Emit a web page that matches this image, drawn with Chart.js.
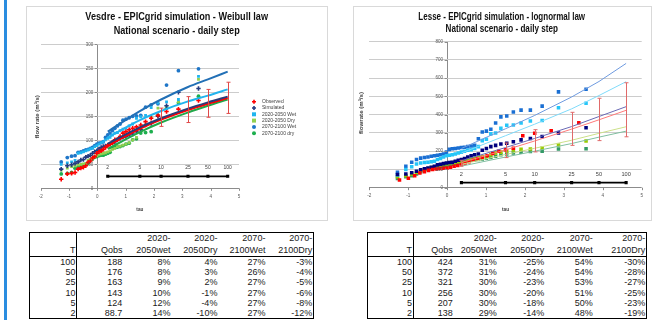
<!DOCTYPE html>
<html>
<head>
<meta charset="utf-8">
<script src="https://cdn.jsdelivr.net/npm/chart.js@4.4.1/dist/chart.umd.min.js"></script>
<style>
  body { margin: 0; background: #fff; width: 662px; height: 320px; overflow: hidden; position: relative;
         font-family: "Liberation Sans", Arial, sans-serif; }
  #bar { position: absolute; left: 4px; top: 0; width: 3px; height: 320px; background: #2a8de0; }
  .box { position: absolute; top: 6px; height: 213px; border: 1px solid #d9d9d9; background: #fff; }
  #boxL { left: 26px; width: 300px; }
  #boxR { left: 353px; width: 297px; }
  table { position: absolute; top: 232px; border-collapse: collapse; border: 1.5px solid #000;
          font-size: 9px; color: #1a1a1a; table-layout: fixed; }
  td { padding: 0 1px 0 0; text-align: right; height: 10.2px; line-height: 10px; white-space: nowrap; }
  tr.head td { height: 21px; vertical-align: bottom; line-height: 11.5px; border-bottom: 1px solid #000; }
  td.first { border-right: 1px solid #000; }
</style>
</head>
<body>
<div id="bar"></div>
<div class="box" id="boxL"><canvas id="vesdre" width="300" height="213"></canvas></div>
<div class="box" id="boxR"><canvas id="lesse" width="297" height="213"></canvas></div>
<table id="tabL" style="left:29px"></table>
<table id="tabR" style="left:367px"></table>
<script>
// plotting positions (Gumbel reduced variate)
const tau35 = [-1.276, -1.061, -0.910, -0.787, -0.680, -0.583, -0.493, -0.408, -0.327, -0.248, -0.170, -0.094,
  -0.018, 0.057, 0.133, 0.210, 0.287, 0.367, 0.448, 0.531, 0.618, 0.708, 0.803, 0.903, 1.009, 1.123, 1.246,
  1.381, 1.532, 1.702, 1.900, 2.139, 2.442, 2.862, 3.570];
const tau29 = [-1.224, -0.996, -0.834, -0.701, -0.583, -0.476, -0.375, -0.279, -0.186, -0.094, -0.003, 0.087,
  0.179, 0.272, 0.367, 0.464, 0.566, 0.672, 0.784, 0.903, 1.031, 1.171, 1.325, 1.500, 1.702, 1.944, 2.250,
  2.674, 3.384];
const periodT = [2, 5, 10, 25, 50, 100];
const periodTau = [0.367, 1.500, 2.250, 3.199, 3.902, 4.600];

// Vesdre
const vesObserved = [19, 30, 31, 33, 40, 42, 44, 47, 54, 57, 63, 66, 73, 76, 78, 81, 85, 89, 92, 95, 101, 102,
  108, 115, 118, 122, 125, 128, 132, 139, 146, 152, 160, 165, 183];
const vesSimulated = [40, 47, 49, 52, 55, 59, 60, 65, 67, 69, 73, 76, 78, 82, 85, 87, 88, 90, 92, 95, 97, 101,
  104, 106, 108, 111, 113, 118, 122, 132, 135, 150, 172, 200, 208];
const vesWet2050 = [50, 53, 55, 58, 73, 74, 76, 78, 80, 82, 83, 87, 89, 92, 95, 97, 101, 104, 106, 111, 115, 116,
  120, 123, 125, 130, 134, 146, 149, 152, 168, 178, 180, 185, 233];
const vesDry2050 = [38, 42, 45, 47, 49, 50, 51, 52, 58, 60, 63, 66, 68, 71, 72, 73, 74, 76, 78, 81, 83, 87, 88,
  90, 92, 95, 101, 106, 128, 132, 148, 167, 170, 180, 227];
const vesWet2100 = [55, 64, 67, 68, 75, 76, 78, 80, 81, 83, 85, 89, 92, 94, 95, 97, 106, 111, 115, 120, 125, 130,
  134, 142, 144, 147, 150, 151, 152, 169, 174, 176, 215, 245, 249];
const vesDry2100 = [30, 31, 33, 42, 44, 45, 47, 50, 52, 59, 61, 65, 66, 68, 69, 69, 71, 73, 75, 83, 85, 86, 87,
  89, 92, 94, 101, 103, 115, 116, 118, 152, 167, 178, 192];
const vesFitObs = [88.7, 124, 143, 163, 176, 188];
const vesFitSim = [93, 127, 146, 166, 179, 191];
const vesFitWet2050 = [106, 142, 161, 181, 193, 206];
const vesFitWet2100 = [118, 161, 185, 211, 227, 243];
const vesFitDry2100 = [82, 117, 137, 158, 172, 185];
const vesPeriodLevel = [25, 25, 25, 25, 25, 25];
const vesErrTau = [2.250, 3.199, 3.902, 4.600];
const vesErrLow = [129, 137, 148, 156];
const vesErrHigh = [167, 191, 206, 221];

// Lesse
const lesObserved = [42, 52, 65, 80, 88, 95, 100, 103, 105, 106, 108, 112, 118, 122, 126, 135, 142, 150, 158,
  165, 175, 188, 200, 208, 216, 285, 298, 312, 356];
const lesSimulated = [72, 75, 82, 90, 98, 104, 108, 112, 118, 125, 128, 132, 135, 138, 140, 145, 150, 155, 160,
  168, 175, 180, 185, 205, 215, 225, 232, 240, 243, 252, 262, 270, 280, 300, 328];
const lesWet2050 = [70, 100, 115, 130, 135, 138, 140, 142, 145, 155, 160, 168, 175, 178, 180, 185, 190, 195, 200,
  205, 208, 215, 225, 258, 265, 295, 300, 325, 342, 343, 355, 365, 368, 438, 463];
const lesDry2050 = [60, 65, 75, 85, 95, 100, 105, 110, 115, 120, 125, 128, 132, 135, 138, 140, 142, 145, 148, 152,
  158, 160, 165, 168, 172, 180, 190, 195, 201, 206, 210, 212, 218, 234, 256];
const lesWet2100 = [85, 118, 140, 155, 162, 165, 168, 172, 175, 178, 181, 185, 195, 210, 213, 215, 218, 220, 222,
  225, 228, 232, 268, 305, 310, 320, 355, 388, 393, 415, 425, 425, 447, 525, 540];
const lesDry2100 = [50, 60, 65, 75, 88, 95, 100, 103, 106, 110, 115, 118, 120, 125, 128, 132, 135, 138, 140, 145,
  150, 152, 155, 158, 162, 165, 172, 180, 185, 190, 195, 198, 200, 212, 214];
const lesFitObs = [138, 207, 256, 321, 372, 424];
const lesFitSim = [148, 220, 270, 335, 390, 444];
const lesFitWet2050 = [190, 285, 348, 432, 505, 581];
const lesFitDry2050 = [128, 182, 216, 260, 298, 334];
const lesFitWet2100 = [215, 323, 396, 497, 582, 681];
const lesFitDry2100 = [118, 168, 200, 242, 277, 310];
const lesPeriodLevel = [28, 28, 28, 28, 28, 28];
const lesErrTau = [0.367, 1.500, 2.250, 3.199, 3.902, 4.600];
const lesErrLow = [120, 165, 196, 232, 258, 279];
const lesErrHigh = [150, 245, 318, 413, 490, 575];

// tables
const tableT = [100, 50, 25, 10, 5, 2];
const vesQobs = [188, 176, 163, 143, 124, 88.7];
const vesChg = [[8, 8, 9, 10, 12, 14], [4, 3, 2, -1, -4, -10], [27, 26, 27, 27, 27, 27], [-3, -4, -5, -6, -8, -12]];
const lesQobs = [424, 372, 321, 256, 207, 138];
const lesChg = [[31, 31, 30, 30, 30, 29], [-25, -24, -23, -20, -18, -14], [54, 54, 53, 51, 50, 48], [-30, -28, -27, -25, -23, -19]];

const pts = (xs, ys) => xs.map((x, i) => ({ x: x, y: ys[i] }));

function fitText(ctx, text, x, y, width, font, rot) {
  ctx.save();
  ctx.font = font;
  const w = ctx.measureText(text).width;
  ctx.translate(x, y);
  if (rot) ctx.rotate(rot);
  ctx.scale(width / w, 1);
  ctx.textAlign = "center";
  ctx.textBaseline = "middle";
  ctx.fillText(text, 0, 0);
  ctx.restore();
}

function marker(ctx, style, x, y, r, color) {
  ctx.fillStyle = color;
  ctx.strokeStyle = color;
  ctx.beginPath();
  if (style === "rect") {
    ctx.fillRect(x - r, y - r, 2 * r, 2 * r);
  } else if (style === "circle") {
    ctx.arc(x, y, r, 0, Math.PI * 2);
    ctx.fill();
  } else {
    ctx.lineWidth = 1.6;
    ctx.moveTo(x - r, y); ctx.lineTo(x + r, y);
    ctx.moveTo(x, y - r); ctx.lineTo(x, y + r);
    ctx.stroke();
  }
}

const extras = {
  id: "extras",
  afterDatasetsDraw(chart, args, o) {
    const { ctx } = chart;
    const xs = chart.scales.x, ys = chart.scales.y;
    ctx.save();
    ctx.strokeStyle = o.errColor;
    ctx.lineWidth = 1;
    o.errTau.forEach((t, i) => {
      const px = Math.round(xs.getPixelForValue(t)) + 0.5;
      const yl = ys.getPixelForValue(o.errLow[i]), yh = ys.getPixelForValue(o.errHigh[i]);
      ctx.beginPath();
      ctx.moveTo(px, yl); ctx.lineTo(px, yh);
      ctx.moveTo(px - 2, yl); ctx.lineTo(px + 2, yl);
      ctx.moveTo(px - 2, yh); ctx.lineTo(px + 2, yh);
      ctx.stroke();
    });
    ctx.restore();
  },
  afterDraw(chart, args, o) {
    const { ctx } = chart;
    const xs = chart.scales.x, ys = chart.scales.y;
    const x0 = xs.getPixelForValue(0), y0 = ys.getPixelForValue(0);
    ctx.save();
    // small tick marks
    ctx.strokeStyle = "#8c8c8c";
    ctx.lineWidth = 1;
    ctx.beginPath();
    for (let v = xs.min; v <= xs.max; v++) {
      const px = Math.round(xs.getPixelForValue(v)) + 0.5;
      ctx.moveTo(px, y0); ctx.lineTo(px, y0 + 2.5);
    }
    for (let v = ys.min; v <= ys.max; v += o.yStep) {
      const py = Math.round(ys.getPixelForValue(v)) + 0.5;
      ctx.moveTo(x0 - 2.5, py); ctx.lineTo(x0, py);
    }
    ctx.stroke();
    // tick labels
    ctx.fillStyle = "#595959";
    ctx.font = o.tickFont;
    ctx.textAlign = "right";
    ctx.textBaseline = "middle";
    for (let v = ys.min; v <= ys.max; v += o.yStep) {
      ctx.fillText(String(v), x0 - 4, ys.getPixelForValue(v));
    }
    ctx.textAlign = "center";
    for (let v = xs.min; v <= xs.max; v++) {
      ctx.fillText(String(v), xs.getPixelForValue(v), y0 + 8.5);
    }
    // return period labels
    ctx.fillStyle = "#404040";
    ctx.font = o.periodFont;
    periodTau.forEach((t, i) => {
      ctx.fillText(String(periodT[i]), xs.getPixelForValue(t), ys.getPixelForValue(o.periodLevel[i]) - 8.5);
    });
    // titles
    ctx.fillStyle = "#111";
    fitText(ctx, o.title[0], o.titleX, o.titleY[0], o.titleW[0], "bold 11px 'Liberation Sans'");
    fitText(ctx, o.title[1], o.titleX, o.titleY[1], o.titleW[1], "bold 11px 'Liberation Sans'");
    ctx.fillStyle = "#404040";
    fitText(ctx, o.yTitle, o.yTitlePos[0], o.yTitlePos[1], o.yTitleW, "bold 6px 'Liberation Sans'", -Math.PI / 2);
    fitText(ctx, "tau", (chart.chartArea.left + chart.chartArea.right) / 2, o.tauY, 7, "bold 6px 'Liberation Sans'");
    // legend
    if (o.legend) {
      ctx.font = "5px 'Liberation Sans'";
      ctx.textAlign = "left";
      ctx.textBaseline = "middle";
      chart.data.datasets.filter((d) => d.legendStyle).forEach((d, i) => {
        const y = o.legend.y + i * o.legend.step;
        marker(ctx, d.legendStyle, o.legend.x, y, 2, d.backgroundColor);
        ctx.fillStyle = "#404040";
        ctx.fillText(d.label, o.legend.x + 8, y);
      });
    }
    ctx.restore();
  },
};

function fit(xs, ys, color, width, tension) {
  return { data: pts(xs, ys), showLine: true, borderColor: color, borderWidth: width, pointRadius: 0,
    tension: tension, cubicInterpolationMode: tension ? "monotone" : "default" };
}
function scatter(label, xs, ys, color, style, r, legendStyle) {
  return { label: label, data: pts(xs, ys), backgroundColor: color, borderColor: color, pointStyle: style,
    pointRadius: r, pointBorderWidth: style === "cross" ? 1.6 : 0, legendStyle: legendStyle };
}
function periodLine(level) {
  return { data: pts(periodTau, level), showLine: true, borderColor: "#000", borderWidth: 1.8,
    pointStyle: "rect", pointRadius: 2.2, backgroundColor: "#000", pointBorderWidth: 0 };
}
function scales(yMax, yStep) {
  return {
    x: { type: "linear", min: -2, max: 5, border: { display: false },
      ticks: { display: false, stepSize: 1 },
      grid: { drawTicks: false, color: (c) => (c.tick.value === 0 ? "#8c8c8c" : "rgba(0,0,0,0)") } },
    y: { type: "linear", min: 0, max: yMax, border: { display: false },
      ticks: { display: false, stepSize: yStep },
      grid: { drawTicks: false, color: (c) => (c.tick.value === 0 ? "#8c8c8c" : "#cccccc") } },
  };
}

new Chart(document.getElementById("vesdre"), {
  type: "scatter",
  data: {
    datasets: [
      fit(periodTau, vesFitWet2100, "#2270b6", 2, 0.4),
      fit(periodTau, vesFitWet2050, "#22b4ee", 2, 0.4),
      fit(periodTau, vesFitSim, "#2b3a78", 2, 0.4),
      fit(periodTau, vesFitObs, "#ff0000", 2, 0.4),
      fit(periodTau, vesFitDry2100, "#22a84a", 2, 0.4),
      periodLine(vesPeriodLevel),
      scatter("Observed", tau35, vesObserved, "#ff0000", "cross", 2.2, "cross"),
      scatter("Simulated", tau35, vesSimulated, "#253c80", "cross", 2.2, "cross"),
      scatter("2020-2050 Wet", tau35, vesWet2050, "#1fb4ee", "rect", 2, "rect"),
      scatter("2020-2050 Dry", tau35, vesDry2050, "#92d050", "rect", 2, "rect"),
      scatter("2070-2100 Wet", tau35, vesWet2100, "#1f76c8", "circle", 1.9, "circle"),
      scatter("2070-2100 dry", tau35, vesDry2100, "#1daf4e", "circle", 1.9, "circle"),
    ],
  },
  options: {
    responsive: false,
    animation: false,
    events: [],
    layout: { padding: { left: 13.7, right: 88, top: 37.3, bottom: 31.7 } },
    scales: scales(300, 50),
    plugins: {
      legend: { display: false },
      tooltip: { enabled: false },
      extras: {
        title: ["Vesdre - EPICgrid simulation - Weibull law", "National scenario - daily step"],
        titleX: 149.7, titleY: [10.3, 24], titleW: [182.7, 126],
        yTitle: "flow rate (m³/s)", yTitlePos: [10.3, 109.7], yTitleW: 43, tauY: 202.3,
        yStep: 50, tickFont: "4.5px 'Liberation Sans'", periodFont: "5px 'Liberation Sans'",
        periodLevel: vesPeriodLevel, errTau: vesErrTau, errLow: vesErrLow, errHigh: vesErrHigh,
        errColor: "#e04848", legend: { x: 227, y: 94.7, step: 6.3 },
      },
    },
  },
  plugins: [extras],
});

new Chart(document.getElementById("lesse"), {
  type: "scatter",
  data: {
    datasets: [
      fit(periodTau, lesFitWet2100, "#6f9be0", 1, 0),
      fit(periodTau, lesFitWet2050, "#7fdbfa", 1, 0),
      fit(periodTau, lesFitSim, "#6a6ab5", 1, 0),
      fit(periodTau, lesFitObs, "#ff7a7a", 1, 0),
      fit(periodTau, lesFitDry2050, "#cce08a", 1, 0),
      fit(periodTau, lesFitDry2100, "#80bfa0", 1, 0),
      periodLine(lesPeriodLevel),
      scatter("Observed", tau29, lesObserved, "#ff0000", "rect", 2.5),
      scatter("Simulated", tau35, lesSimulated, "#00007f", "rect", 2.5),
      scatter("2020-2050 Wet", tau35, lesWet2050, "#26c6f8", "rect", 2.5),
      scatter("2020-2050 Dry", tau35, lesDry2050, "#99cc00", "rect", 2.5),
      scatter("2070-2100 Wet", tau35, lesWet2100, "#1a6fd3", "rect", 2.5),
      scatter("2070-2100 Dry", tau35, lesDry2100, "#339966", "rect", 2.5),
    ],
  },
  options: {
    responsive: false,
    animation: false,
    events: [],
    layout: { padding: { left: 15.3, right: 9.3, top: 34.7, bottom: 32.3 } },
    scales: scales(800, 100),
    plugins: {
      legend: { display: false },
      tooltip: { enabled: false },
      extras: {
        title: ["Lesse - EPICgrid simulation - lognormal law", "National scenario - daily step"],
        titleX: 147.7, titleY: [9.7, 22.3], titleW: [166.7, 112.3],
        yTitle: "flowrate (m³/s)", yTitlePos: [7.7, 106], yTitleW: 42, tauY: 202,
        yStep: 100, tickFont: "4.6px 'Liberation Sans'", periodFont: "5.6px 'Liberation Sans'",
        periodLevel: lesPeriodLevel, errTau: lesErrTau, errLow: lesErrLow, errHigh: lesErrHigh,
        errColor: "#e06a6a", legend: null,
      },
    },
  },
  plugins: [extras],
});

function buildTable(id, widths, heads, qobs, chg) {
  const tab = document.getElementById(id);
  let html = "<colgroup>" + widths.map((w) => '<col style="width:' + w + 'px">').join("") + "</colgroup>";
  html += '<tr class="head">' + heads.map((h, i) => '<td' + (i === 0 ? ' class="first"' : "") + ">" + h + "</td>").join("") + "</tr>";
  tableT.forEach((t, r) => {
    html += '<tr><td class="first">' + t + "</td><td>" + qobs[r] + "</td>" +
      chg.map((c) => "<td>" + c[r] + "%</td>").join("") + "</tr>";
  });
  tab.innerHTML = html;
}
buildTable("tabL", [47.4, 46.5, 48, 47, 48, 47.3],
  ["T", "Qobs", "2020-<br>2050wet", "2020-<br>2050Dry", "2070-<br>2100Wet", "2070-<br>2100Dry"], vesQobs, vesChg);
buildTable("tabR", [46, 40.2, 44, 47.5, 48.5, 53.2],
  ["T", "Qobs", "2020-<br>2050Wet", "2020-<br>2050Dry", "2070-<br>2100Wet", "2070-<br>2100Dry"], lesQobs, lesChg);
</script>
</body>
</html>
